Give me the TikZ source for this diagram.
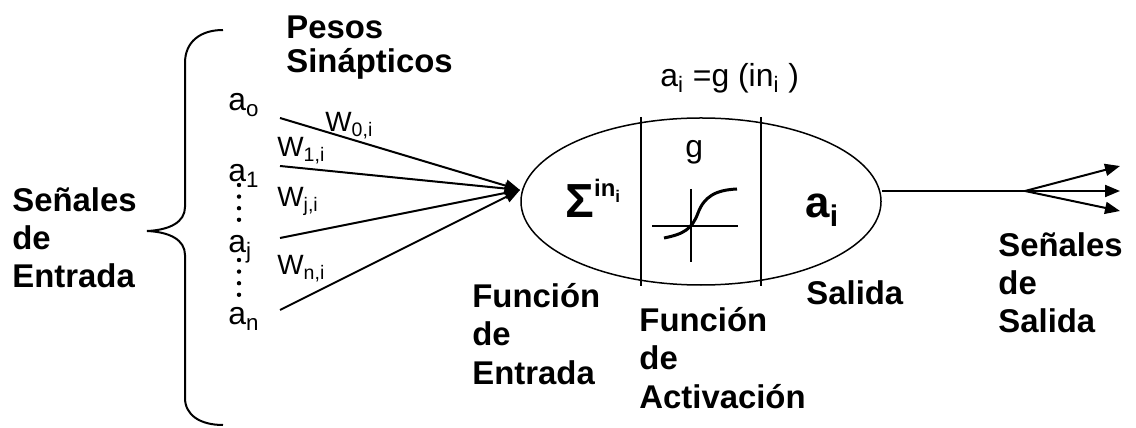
\documentclass[tikz,border=0pt]{standalone}
\usepackage{fontspec}
\setmainfont{Liberation Sans}
\usetikzlibrary{arrows.meta,shapes.geometric}
\newcommand{\lo}[3]{\raisebox{-#1}{\fontsize{#2}{#2}\selectfont #3}}
\newcommand{\hi}[3]{\raisebox{#1}{\fontsize{#2}{#2}\selectfont #3}}

\begin{document}
\begin{tikzpicture}[x=0.5bp,y=-0.5bp,
  lbl/.style={font=\fontsize{16.5}{19.2}\selectfont\bfseries,align=left,inner sep=0pt,anchor=north west},
  sig/.style={font=\fontsize{16}{18}\selectfont,inner sep=0pt,anchor=base west},
  wt/.style={font=\fontsize{14}{16}\selectfont,inner sep=0pt,anchor=base west},
  feed/.style={-{Triangle[length=7.5bp,width=6bp]},line width=1bp},
  dotcol/.style={line width=2.2bp,line cap=round,dash pattern=on 0bp off 5.8bp},
  thin/.style={line width=0.6bp}]
  \useasboundingbox (0,0) rectangle (1136,428);
  % llave de entradas
  \draw[line width=1bp] (223,30) .. controls (200,30) and (185,42) .. (185,63)
    -- (185,207) .. controls (185,222) and (170,230) .. (147,231)
    .. controls (170,232) and (185,240) .. (185,255)
    -- (185,398) .. controls (185,415) and (200,425) .. (223,425);
  \node[lbl] (ent) at (12,187) {Señales\\de\\Entrada};
  \node[lbl,font=\fontsize{16.5}{17.5}\selectfont\bfseries] (pesos) at (286,15) {Pesos\\Sinápticos};
  % senales a
  \node[sig] (a0) at (228,111) {a\textsubscript{o}};
  \node[sig] (a1) at (228,182) {a\textsubscript{1}};
  \node[sig] (aj) at (228,253) {a\textsubscript{j}};
  \node[sig] (an) at (228,325) {a\textsubscript{n}};
  \draw[dotcol] (239,185) -- (239,222);
  \draw[dotcol] (239,260) -- (239,306);
  % pesos
  \node[wt] (w0) at (325,132) {W\textsubscript{0,i}};
  \node[wt] (w1) at (277,157) {W\textsubscript{1,i}};
  \node[wt] (wj) at (277,207) {W\textsubscript{j,i}};
  \node[wt] (wn) at (277,275) {W\textsubscript{n,i}};
  % neurona
  \node[draw,ellipse,line width=0.75bp,minimum width=180bp,minimum height=83.5bp,inner sep=0pt]
    (neuron) at (701,201.5) {};
  \coordinate (tip) at (520,190);
  \coordinate (s0) at (280,118);
  \coordinate (s1) at (280,166);
  \coordinate (sj) at (280,238);
  \coordinate (sn) at (280,310);
  \foreach \s in {s0,s1,sj,sn}
    \draw[feed] (\s) -- (tip);
  \draw[line width=0.75bp] (641,117) -- (641,286);
  \draw[line width=0.75bp] (761,117) -- (761,286);
  \node[inner sep=0pt,anchor=base west] (suma) at (565,218)
    {{\fontsize{24}{24}\selectfont\bfseries Σ}\hi{10.5bp}{12}{\bfseries in\lo{3bp}{8.5}{i}}};
  \node[sig] (g) at (685,158) {g};
  \node[sig] (form) at (660,87) {a\textsubscript{i} =g (in\textsubscript{i} )};
  \node[inner sep=0pt,anchor=base west] (ai) at (805,218)
    {{\fontsize{22}{22}\selectfont\bfseries a}\lo{4.5bp}{15}{\bfseries i}};
  % funcion de activacion
  \draw[thin] (652,226) -- (738,226);
  \draw[thin] (691,189) -- (691,262);
  \draw[line width=1.5bp] (664,238) .. controls (684,234) and (692,229) .. (698,213)
    .. controls (704,197) and (715,190) .. (737,189);
  \node[lbl] (fent) at (472,283) {Función\\de\\Entrada};
  \node[lbl] (fact) at (639,307) {Función\\de\\Activación};
  \node[lbl] (sal) at (806,280) {Salida};
  % salidas
  \coordinate (split) at (1025,191);
  \coordinate (o1) at (1120,166);
  \coordinate (o2) at (1120,191);
  \coordinate (o3) at (1120,211);
  \draw[line width=1bp] (split -| neuron.east) -- (split);
  \foreach \o in {o1,o2,o3}
    \draw[feed] (split) -- (\o);
  \node[lbl] (ssal) at (998,232) {Señales\\de\\Salida};
\end{tikzpicture}
\end{document}
